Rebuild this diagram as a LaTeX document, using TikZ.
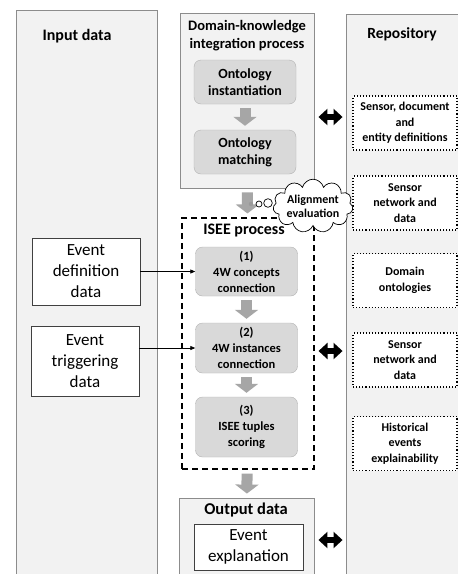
\documentclass[tikz,border=0pt]{standalone}
\usepackage{fontspec}
\setmainfont{Carlito}
\usetikzlibrary{shapes.symbols,arrows.meta}

\begin{document}
\begin{tikzpicture}[x=1pt, y=-1pt,
	panel/.style = {draw=gray!90, fill=gray!10, line width=0.9pt, inner sep=0pt},
	title/.style = {font=\bfseries\fontsize{16}{19}\selectfont},
	proc/.style = {draw=gray!60, fill=gray!30, rounded corners=7pt, minimum width=102pt, align=center, font=\bfseries\fontsize{12.5}{16}\selectfont},
	datum/.style = {draw=black!75, fill=white, line width=0.7pt, minimum width=108pt, align=center, font=\fontsize{17}{21}\selectfont},
	repo/.style = {draw, dotted, line width=1.1pt, fill=white, minimum width=104pt, minimum height=54pt, align=center, font=\bfseries\fontsize{12}{15.5}\selectfont},
	flow/.style = {gray!70, line width=11pt, -{Triangle[length=9pt, width=23pt]}, shorten <=4pt, shorten >=4pt},
	link/.style = {line width=5.5pt, {Triangle[length=9pt, width=16pt]}-{Triangle[length=9pt, width=16pt]}, shorten <=4pt, shorten >=3pt},
	feed/.style = {line width=0.8pt, -{Triangle[length=5pt, width=4pt]}}]
	\useasboundingbox[fill=white] (0,0) rectangle (458,574);
	\clip (0,0) rectangle (458,574);
	\node[panel, minimum width=141pt, minimum height=590pt] (in) at (86.5,305) {};
	\node[title] at (77,36) {Input data};
	\node[datum, minimum height=67pt] (def) at (86,271.5) {Event\\definition\\data};
	\node[datum, minimum height=70pt] (trig) at (85,361) {Event\\triggering\\data};
	\node[panel, minimum width=129pt, minimum height=586pt] (rep) at (410.5,307) {};
	\node[title, font=\bfseries\fontsize{15.5}{19}\selectfont] at (402,34) {Repository};
	\node[repo] (r1) at (405,123) {Sensor, document\\and\\entity definitions};
	\node[repo] (r2) at (405,203) {Sensor\\network and\\data};
	\node[repo] (r3) at (405,280.5) {Domain\\ontologies};
	\node[repo] (r4) at (405,360) {Sensor\\network and\\data};
	\node[repo] (r5) at (405,443.5) {Historical\\events\\explainability};
	\node[panel, minimum width=134pt, minimum height=175pt] (dk) at (247,100.5) {};
	\node[align=center, font=\bfseries\fontsize{14.5}{18}\selectfont] at (247,36) {Domain-knowledge\\integration process};
	\node[proc, minimum height=44pt, font=\bfseries\fontsize{14}{17}\selectfont] (oi) at (245,82) {Ontology\\instantiation};
	\node[proc, minimum height=44pt, font=\bfseries\fontsize{14}{17}\selectfont] (om) at (245,152) {Ontology\\matching};
	\node[draw, dash pattern=on 6pt off 4pt, line width=1.1pt, fill=white, minimum width=132pt, minimum height=251pt] (isee) at (248,343.5) {};
	\node[title] at (244,231) {ISEE process};
	\node[proc, minimum height=49pt] (s1) at (246.5,271.5) {(1)\\4W concepts\\connection};
	\node[proc, minimum height=50pt] (s2) at (246.5,348) {(2)\\4W instances\\connection};
	\node[proc, minimum height=60pt] (s3) at (246.5,427) {(3)\\ISEE tuples\\scoring};
	\node[panel, minimum width=135pt, minimum height=102pt] (out) at (246.5,549) {};
	\node[title, font=\bfseries\fontsize{16.5}{19}\selectfont] at (246,510) {Output data};
	\node[datum, minimum width=109pt, minimum height=46pt] (ee) at (248.5,547) {Event\\explanation};
	\draw[flow] (oi) -- (om);
	\draw[flow] (dk) -- (isee);
	\draw[flow] (s1) -- (s2);
	\draw[flow] (s2) -- (s3);
	\draw[flow] (isee) -- (out);
	\draw[feed] (def) -- (s1);
	\draw[feed] (trig.east |- s2) -- (s2);
	\draw[link] ([yshift=-16.5pt]dk.east) -- ([yshift=-16.5pt]dk.east -| rep.west);
	\draw[link] (isee.east |- 0,351) -- (rep.west |- 0,351);
	\draw[link] (out.east |- 0,540) -- (rep.west |- 0,540);
	\node[cloud, cloud puffs=11, aspect=1.9, draw, fill=white, line width=0.7pt, inner sep=0pt, minimum width=80pt, minimum height=44pt, align=center, font=\bfseries\fontsize{12}{14}\selectfont] (ae) at (313,206) {Alignment\\evaluation};
	\fill[gray!80] (251,204) circle (2.2);
	\draw[line width=0.7pt, fill=white] (259,204) circle (3);
	\draw[line width=0.7pt, fill=white] (268,203) circle (4.3);
\end{tikzpicture}
\end{document}
